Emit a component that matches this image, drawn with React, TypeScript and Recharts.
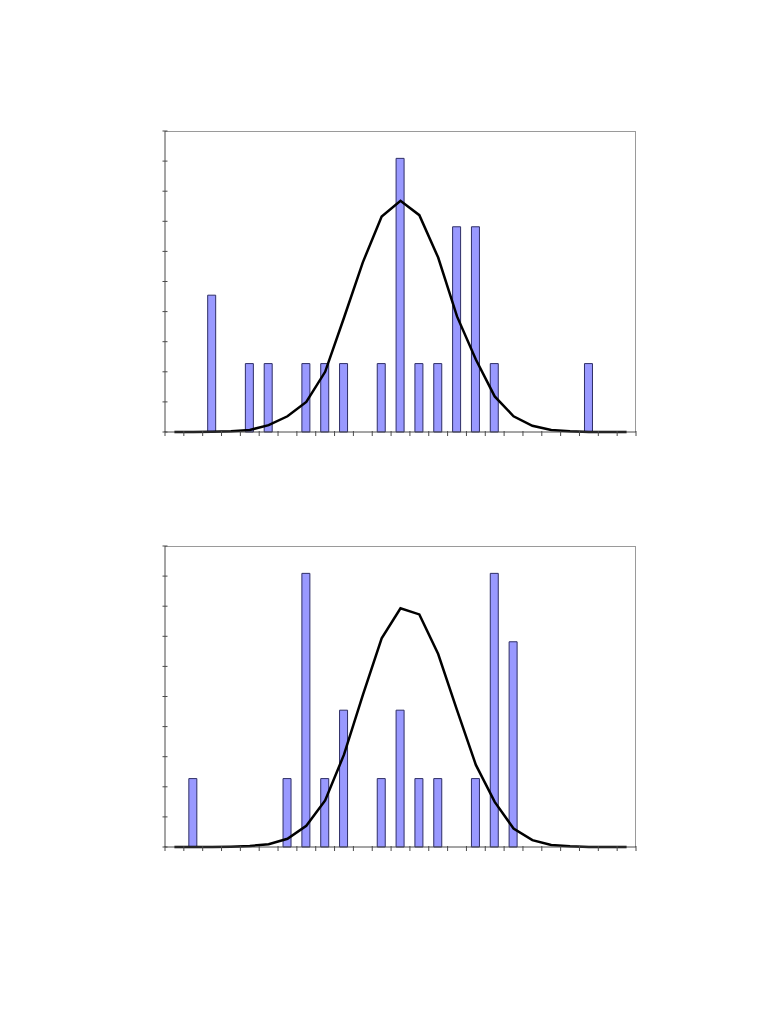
import { ComposedChart, Bar, Line, XAxis, YAxis } from "recharts";

// 25 histogram bins, no labels shown on the axis
const BINS = [1, 2, 3, 4, 5, 6, 7, 8, 9, 10, 11, 12, 13, 14, 15, 16, 17, 18, 19, 20, 21, 22, 23, 24, 25];

const TOP_COUNTS = [0, 0, 2, 0, 1, 1, 0, 1, 1, 1, 0, 1, 4, 1, 1, 3, 3, 1, 0, 0, 0, 0, 1, 0, 0];
const TOP_FIT = [0, 0, 0.005, 0.01, 0.03, 0.1, 0.23, 0.44, 0.88, 1.67, 2.48, 3.15, 3.38, 3.17, 2.55, 1.69, 1.06, 0.52, 0.23, 0.09, 0.03, 0.01, 0, 0, 0];

const BOTTOM_COUNTS = [0, 1, 0, 0, 0, 0, 1, 4, 1, 2, 0, 1, 2, 1, 1, 0, 1, 4, 3, 0, 0, 0, 0, 0, 0];
const BOTTOM_FIT = [0, 0, 0, 0.005, 0.015, 0.04, 0.12, 0.31, 0.68, 1.35, 2.22, 3.05, 3.49, 3.4, 2.82, 2.0, 1.2, 0.66, 0.27, 0.1, 0.03, 0.01, 0, 0, 0];

const Y_TICKS = [0, 0.44, 0.88, 1.32, 1.76, 2.2, 2.64, 3.08, 3.52, 3.96, 4.4];

const PLOT_LEFT = 165;
const PLOT_W = 471;
const PLOT_H = 301;
const BAND = PLOT_W / BINS.length;
const AXIS_COLOR = "#4a4a4a";

function YTick(props: any) {
  const { x, y } = props;
  return <line x1={x - 2.5} x2={x + 2.5} y1={y} y2={y} stroke={AXIS_COLOR} strokeWidth={1} />;
}

function XTick(props: any) {
  const { x, y, index } = props;
  const left = x - BAND / 2;
  return (
    <g>
      <line x1={left} x2={left} y1={y - 1} y2={y + 4} stroke={AXIS_COLOR} strokeWidth={1} />
      {index === BINS.length - 1 && (
        <line x1={x + BAND / 2} x2={x + BAND / 2} y1={y - 1} y2={y + 4} stroke={AXIS_COLOR} strokeWidth={1} />
      )}
    </g>
  );
}

function Histogram({ counts, fit, plotTop }: { counts: number[]; fit: number[]; plotTop: number }) {
  const data = BINS.map((b, i) => ({ bin: b, count: counts[i], fit: fit[i] }));
  return (
    <>
      {/* plot area frame (top + right edges) */}
      <div
        style={{
          position: "absolute",
          left: PLOT_LEFT,
          top: plotTop,
          width: PLOT_W,
          height: PLOT_H,
          borderTop: "1px solid #9a9a9a",
          borderRight: "1px solid #9a9a9a",
          boxSizing: "border-box",
        }}
      />
      <div style={{ position: "absolute", left: 0, top: plotTop - 10 }}>
        <ComposedChart
          width={781}
          height={PLOT_H + 25}
          data={data}
          margin={{ top: 10, right: 781 - PLOT_LEFT - PLOT_W, bottom: 5, left: PLOT_LEFT - 10 }}
        >
          <XAxis
            dataKey="bin"
            height={10}
            interval={0}
            tickSize={0}
            tickMargin={0}
            tickLine={false}
            tick={<XTick />}
            axisLine={{ stroke: AXIS_COLOR }}
          />
          <YAxis
            width={10}
            domain={[0, 4.4]}
            ticks={Y_TICKS}
            interval={0}
            tickSize={0}
            tickMargin={0}
            tickLine={false}
            tick={<YTick />}
            axisLine={{ stroke: AXIS_COLOR }}
          />
          <Bar dataKey="count" barSize={8} fill="#9999ff" stroke="#2e2e66" strokeWidth={1} isAnimationActive={false} />
          <Line
            type="linear"
            dataKey="fit"
            stroke="#000000"
            strokeWidth={2.5}
            dot={false}
            activeDot={false}
            isAnimationActive={false}
          />
        </ComposedChart>
      </div>
    </>
  );
}

export default function App() {
  return (
    <div style={{ position: "absolute", left: 0, top: 0, width: 781, height: 1011, background: "white" }}>
      <Histogram counts={TOP_COUNTS} fit={TOP_FIT} plotTop={131} />
      <Histogram counts={BOTTOM_COUNTS} fit={BOTTOM_FIT} plotTop={546} />
    </div>
  );
}
